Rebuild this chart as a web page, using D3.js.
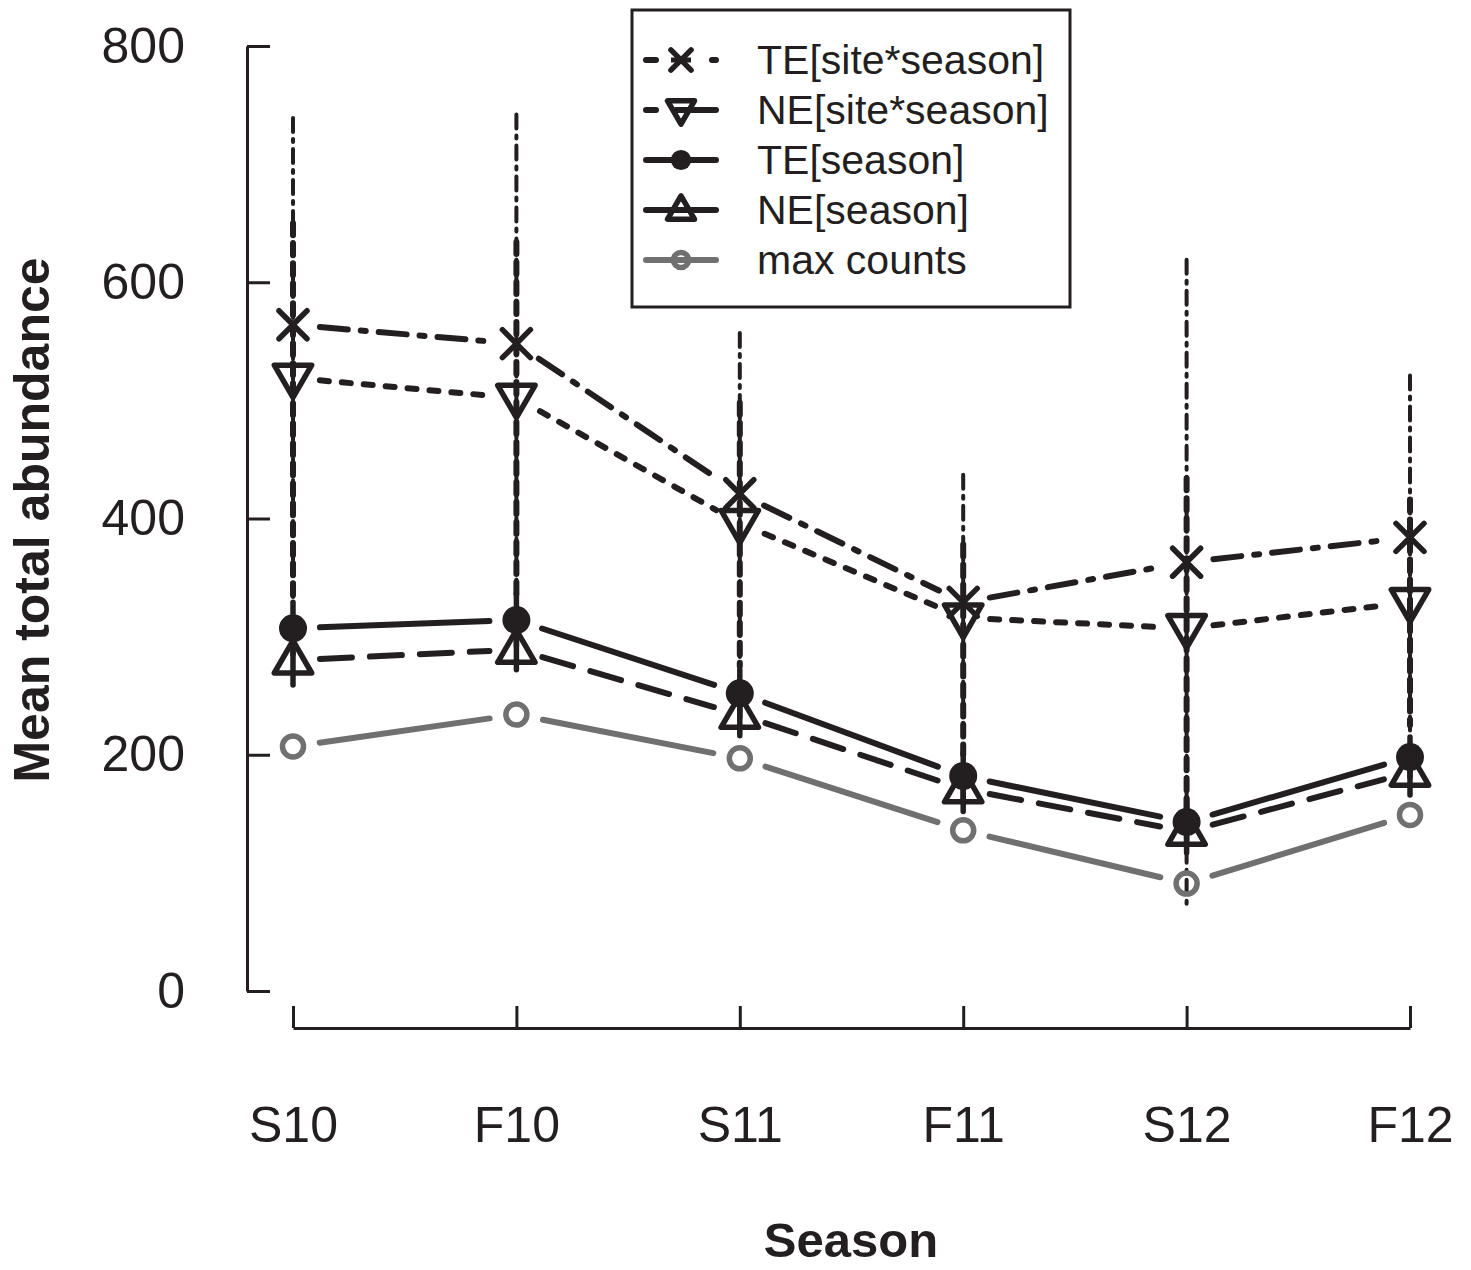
<!DOCTYPE html>
<html>
<head>
<meta charset="utf-8">
<script src="https://cdn.jsdelivr.net/npm/d3@7"></script>
<style>
  body { margin: 0; background: #fff; }
  svg { font-family: Arial, "Liberation Sans", Helvetica, sans-serif; }
</style>
</head>
<body>
<svg id="chart" width="1471" height="1270"></svg>
<script>
// Data
const seasons = ['S10', 'F10', 'S11', 'F11', 'S12', 'F12'];
const yTicks = [0, 200, 400, 600, 800];

const teSiteSeason   = [564, 548, 421, 329, 363, 384];
const teSiteSeasonHi = [739, 742, 557, 437, 619, 521];
const teSiteSeasonLo = [320, 325, 270, 195, 70, 215];

const neSiteSeason   = [519, 502, 396, 316, 307, 329];
const neSiteSeasonHi = [650, 634, 498, 378, 434, 416];
const neSiteSeasonLo = [335, 330, 275, 200, 150, 225];

const teSeason   = [307, 314, 252, 182, 143, 198];
const teSeasonHi = [329, 336, 272, 202, 163, 215];
const teSeasonLo = [285, 292, 232, 162, 123, 181];

const neSeason   = [280, 289, 234, 171, 135, 185];
const neSeasonHi = [300, 309, 254, 191, 155, 205];
const neSeasonLo = [259, 272, 216, 152, 117, 166];

const maxCounts = [207, 234, 197, 136, 91, 149];

const ink = '#231f20';
const grey = '#707070';

// Series definitions (styles only)
const series = [
    { name: 'TE[site*season]', values: teSiteSeason, hi: teSiteSeasonHi, lo: teSiteSeasonLo,
      color: ink, dash: '28 13 5 13', marker: 'x', barDash: '14 7 3 7', barWidth: 4,
      legendDash: '10 22 0 34 10 30' },
    { name: 'NE[site*season]', values: neSiteSeason, hi: neSiteSeasonHi, lo: neSiteSeasonLo,
      color: ink, dash: '9 13', marker: 'triDown', barDash: '12 8', barWidth: 6,
      legendDash: '10 20 50 30' },
    { name: 'TE[season]', values: teSeason, hi: teSeasonHi, lo: teSeasonLo,
      color: ink, dash: null, marker: 'dot', barDash: null, barWidth: 5.5, legendDash: null },
    { name: 'NE[season]', values: neSeason, hi: neSeasonHi, lo: neSeasonLo,
      color: ink, dash: '32 18', marker: 'triUp', barDash: null, barWidth: 5.5, legendDash: null },
    { name: 'max counts', values: maxCounts, hi: null, lo: null,
      color: grey, dash: null, marker: 'circle', barDash: null, barWidth: 5, legendDash: null }
];

// Scales
const x = d3.scalePoint().domain(seasons).range([293, 1410]);
const y = d3.scaleLinear().domain([0, 800]).range([991, 46]);

const svg = d3.select('#chart');

// Axes (R style, inward ticks)
const yAxis = svg.append('g')
    .attr('transform', 'translate(247,0)')
    .call(d3.axisLeft(y).tickValues(yTicks).tickSizeInner(-23).tickSizeOuter(0).tickPadding(62));
yAxis.selectAll('path, line').attr('stroke', ink).attr('stroke-width', 3);
yAxis.selectAll('text').attr('font-size', 50).attr('fill', ink);

const xAxis = svg.append('g')
    .attr('transform', 'translate(0,1028)')
    .call(d3.axisBottom(x).tickSizeInner(-22).tickSizeOuter(0).tickPadding(78));
xAxis.selectAll('path, line').attr('stroke', ink).attr('stroke-width', 3);
xAxis.selectAll('text').attr('font-size', 50).attr('fill', ink);

// Axis titles
svg.append('text')
    .attr('transform', 'translate(49,520) rotate(-90)')
    .attr('text-anchor', 'middle')
    .attr('font-size', 50).attr('font-weight', 'bold').attr('fill', ink)
    .text('Mean total abundance');

svg.append('text')
    .attr('x', 851).attr('y', 1257)
    .attr('text-anchor', 'middle')
    .attr('font-size', 49).attr('font-weight', 'bold').attr('fill', ink)
    .text('Season');

// Error bars
series.forEach(s => {
    if (!s.hi) return;
    svg.append('g').selectAll('line')
        .data(seasons)
        .enter().append('line')
        .attr('x1', d => x(d)).attr('x2', d => x(d))
        .attr('y1', (d, i) => y(s.hi[i]))
        .attr('y2', (d, i) => y(s.lo[i]))
        .attr('stroke', s.color)
        .attr('stroke-width', s.barWidth)
        .attr('stroke-linecap', 'round')
        .attr('stroke-dasharray', s.barDash);
});

// Connecting lines with gaps around the points (type = "b")
const gap = 27;
series.forEach(s => {
    const pts = seasons.map((d, i) => [x(d), y(s.values[i])]);
    const segs = d3.pairs(pts).map(([a, b]) => {
        const dx = b[0] - a[0], dy = b[1] - a[1];
        const len = Math.hypot(dx, dy);
        const ux = dx / len, uy = dy / len;
        return [a[0] + ux * gap, a[1] + uy * gap, b[0] - ux * gap, b[1] - uy * gap];
    });
    svg.append('g').selectAll('line')
        .data(segs)
        .enter().append('line')
        .attr('x1', d => d[0]).attr('y1', d => d[1])
        .attr('x2', d => d[2]).attr('y2', d => d[3])
        .attr('stroke', s.color)
        .attr('stroke-width', 6)
        .attr('stroke-linecap', 'round')
        .attr('stroke-dasharray', s.dash);
});

// Marker drawing
function drawMarker(g, type, cx, cy, color, k = 1) {
    const sw = 5.5;
    if (type === 'x') {
        const r = 14 * k;
        g.append('path')
            .attr('d', `M${cx - r},${cy - r}L${cx + r},${cy + r}M${cx - r},${cy + r}L${cx + r},${cy - r}`)
            .attr('stroke', color).attr('stroke-width', sw).attr('stroke-linecap', 'round');
    } else if (type === 'triDown') {
        const h = 17 * k;
        g.append('path')
            .attr('d', `M${cx - h * 1.1},${cy - h * 0.75}L${cx + h * 1.1},${cy - h * 0.75}L${cx},${cy + h * 1.15}Z`)
            .attr('fill', 'none').attr('stroke', color).attr('stroke-width', sw).attr('stroke-linejoin', 'round');
    } else if (type === 'triUp') {
        const h = 17 * k;
        g.append('path')
            .attr('d', `M${cx - h * 1.1},${cy + h * 0.75}L${cx + h * 1.1},${cy + h * 0.75}L${cx},${cy - h * 1.15}Z`)
            .attr('fill', 'none').attr('stroke', color).attr('stroke-width', sw).attr('stroke-linejoin', 'round');
    } else if (type === 'dot') {
        g.append('circle').attr('cx', cx).attr('cy', cy).attr('r', 14 * k).attr('fill', color);
    } else if (type === 'circle') {
        g.append('circle').attr('cx', cx).attr('cy', cy).attr('r', 10.5 * k)
            .attr('fill', 'none').attr('stroke', color).attr('stroke-width', sw);
    }
}

series.forEach(s => {
    const g = svg.append('g');
    seasons.forEach((d, i) => drawMarker(g, s.marker, x(d), y(s.values[i]), s.color));
});

// Legend
const legend = svg.append('g');
legend.append('rect')
    .attr('x', 632).attr('y', 10).attr('width', 438).attr('height', 297)
    .attr('fill', '#fff').attr('stroke', ink).attr('stroke-width', 3);

series.forEach((s, i) => {
    const ly = 60 + i * 50;
    legend.append('line')
        .attr('x1', 646).attr('x2', 716).attr('y1', ly).attr('y2', ly)
        .attr('stroke', s.color).attr('stroke-width', 6)
        .attr('stroke-linecap', 'round')
        .attr('stroke-dasharray', s.legendDash);
    drawMarker(legend, s.marker, 681, ly, s.color, 0.72);
    if (s.marker === 'x') {
        legend.append('line')
            .attr('x1', 671).attr('x2', 691).attr('y1', ly).attr('y2', ly)
            .attr('stroke', s.color).attr('stroke-width', 5);
    }
    legend.append('text')
        .attr('x', 757).attr('y', ly + 14)
        .attr('font-size', 41).attr('fill', ink)
        .text(s.name);
});
</script>
</body>
</html>
